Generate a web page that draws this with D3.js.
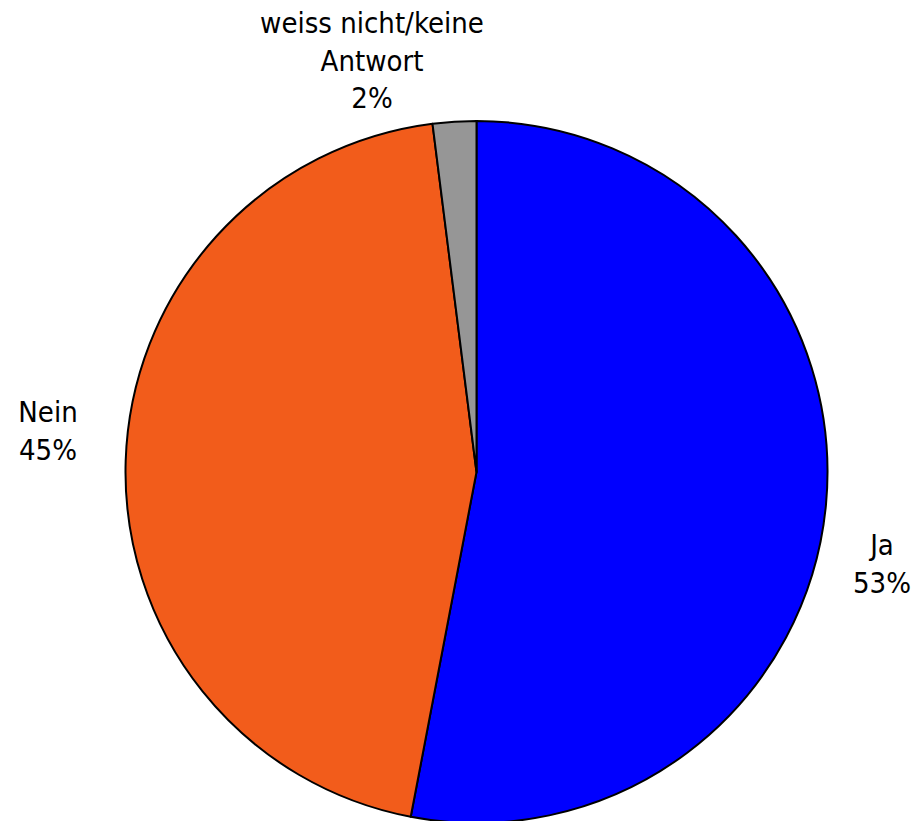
<!DOCTYPE html>
<html><head><meta charset="utf-8">
<script src="https://cdn.jsdelivr.net/npm/d3@7"></script>
<style>body{margin:0;background:#fff}svg{display:block}</style>
</head><body>
<svg id="c" width="920" height="821"></svg>
<script>
const categories = ["Ja", "Nein", "weiss nicht/keine Antwort"];
const values = [53, 45, 2];
const labelLines = [["Ja", "53%"], ["Nein", "45%"], ["weiss nicht/keine", "Antwort", "2%"]];
const colors = ["#0000FF", "#F25C1B", "#969696"];

const svg = d3.select("#c");
const cx = 476.5, cy = 472, r = 351;
const g = svg.append("g").attr("transform", `translate(${cx},${cy})`);
const pie = d3.pie().sort(null).value(d => d)(values);
const arc = d3.arc().innerRadius(0).outerRadius(r);
g.selectAll("path").data(pie).join("path")
  .attr("d", arc)
  .attr("fill", (d, i) => colors[i])
  .attr("stroke", "#000").attr("stroke-width", 2).attr("stroke-linejoin", "round");

const labelPos = [[882, 555], [48, 422], [372, 33]];
const font = "'DejaVu Sans Condensed', 'DejaVu Sans', sans-serif";
labelLines.forEach((lines, i) => {
  const t = svg.append("text")
    .attr("text-anchor", "middle")
    .attr("font-family", font)
    .attr("font-size", 29)
    .attr("fill", "#000");
  lines.forEach((l, j) => {
    t.append("tspan").attr("x", labelPos[i][0]).attr("y", labelPos[i][1] + j * 37.5).text(l);
  });
});
</script>
</body></html>
